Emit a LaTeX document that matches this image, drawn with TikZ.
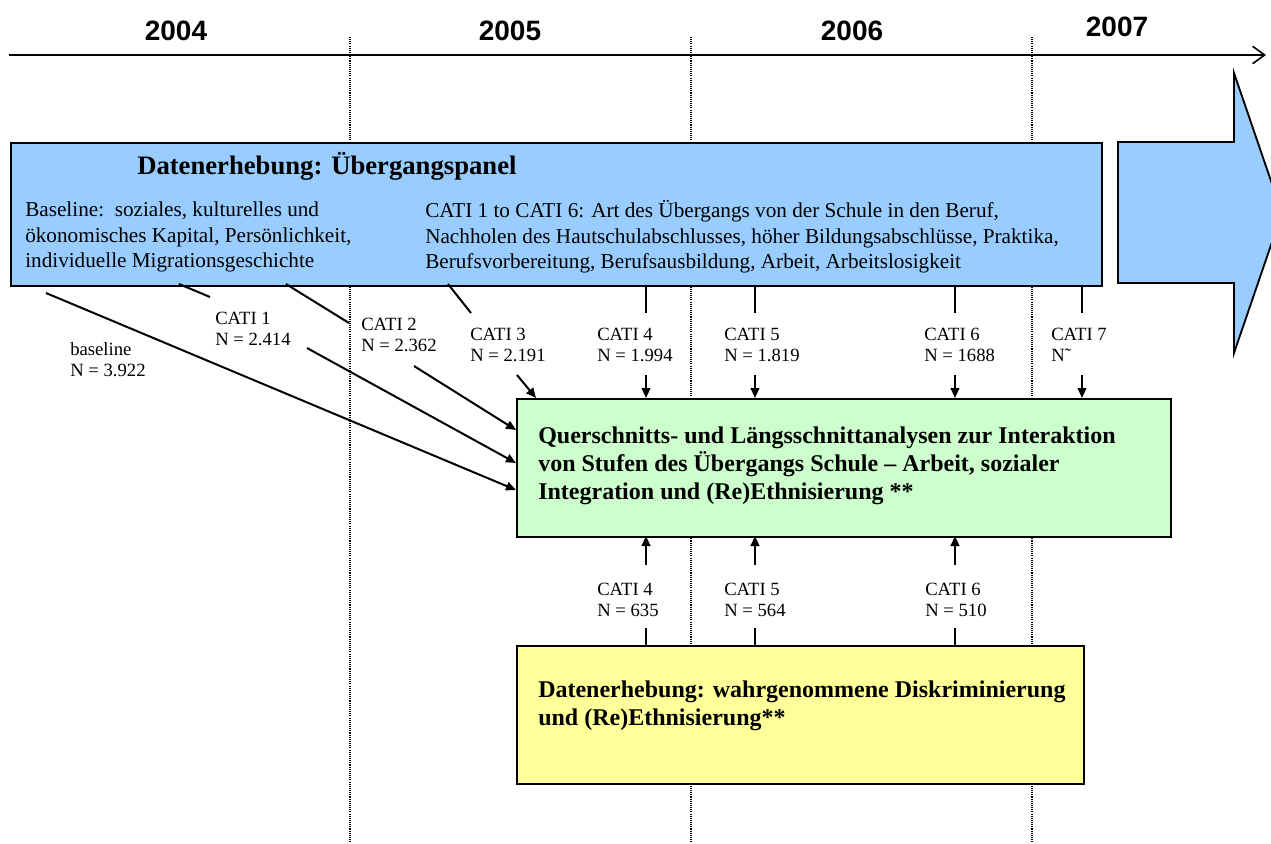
\documentclass[tikz,border=0pt]{standalone}
\usepackage{fontspec}
\setmainfont{Liberation Serif}
\newfontfamily\yearfont{Liberation Sans}
\usetikzlibrary{arrows.meta}
\definecolor{panelblue}{HTML}{99CCFF}
\definecolor{analysisgreen}{HTML}{CCFFCC}
\definecolor{discyellow}{HTML}{FFFF99}
\tikzset{
  boxline/.style={draw=black, line width=1.4pt},
  conn/.style={line width=1.5pt},
  arr/.style={conn, -{Triangle[length=7.5pt,width=6.5pt]}},
  dotline/.style={line width=0.9pt, dash pattern=on 0.8pt off 0.8pt},
  yearlbl/.style={font=\yearfont\bfseries\fontsize{21}{24}\selectfont, inner sep=0pt},
  lbl/.style={font=\fontsize{14}{15.6}\selectfont, align=left, anchor=west, inner sep=0pt},
  bodytxt/.style={font=\fontsize{15.9}{19}\selectfont, align=left, anchor=west, inner sep=0pt},
  boldtxt/.style={font=\bfseries\fontsize{18}{21}\selectfont, align=left, anchor=west, inner sep=0pt},
}
\begin{document}
\begin{tikzpicture}[x=0.75pt,y=-0.75pt]
\useasboundingbox (0,0) rectangle (1271,843);
\clip (0,0) rectangle (1271,843);

% year boundaries
\foreach \n/\xx in {a/350, b/691, c/1032}{
  \coordinate (yt\n) at (\xx,37);
  \coordinate (yb\n) at (\xx,843);
  \draw[dotline] (yt\n) -- (yb\n);
}

% time axis
\coordinate (axL) at (9,55);
\coordinate (axR) at (1266,55);
\draw[line width=1.8pt, -{Straight Barb[length=9pt,width=13pt,line width=1.2pt]}] (axL) -- (axR);
\node[yearlbl] (y2004) at (176,31) {2004};
\node[yearlbl] (y2005) at (510,31) {2005};
\node[yearlbl] (y2006) at (852,31) {2006};
\node[yearlbl] (y2007) at (1117,27) {2007};

% panel box and continuation arrow
\node[boxline, fill=panelblue, minimum width=1091*0.75pt, minimum height=143*0.75pt, anchor=north west, inner sep=0pt] (panel) at (10,142) {};
\draw[boxline, fill=panelblue] (1118,142) -- (1234,142) -- (1234,73) -- (1282,213) -- (1234,353) -- (1234,283) -- (1118,283) -- cycle;
\node[font=\bfseries\fontsize{20}{24}\selectfont, anchor=west, inner sep=0pt] (ptitle) at (137,166) {Datenerhebung: Übergangspanel};
\node[bodytxt] (pbase) at (25,237) {Baseline:\ \ soziales, kulturelles und\\ökonomisches Kapital, Persönlichkeit,\\individuelle Migrationsgeschichte};
\node[bodytxt] (pcati) at (425,237) {CATI 1 to CATI 6: Art des Übergangs von der Schule in den Beruf,\\Nachholen des Hautschulabschlusses, höher Bildungsabschlüsse, Praktika,\\Berufsvorbereitung, Berufsausbildung, Arbeit, Arbeitslosigkeit};

% analysis box
\node[boxline, fill=analysisgreen, minimum width=654*0.75pt, minimum height=138*0.75pt, anchor=north west, inner sep=0pt] (analysis) at (516,398) {};
\node[boldtxt] (atext) at (538,466) {Querschnitts- und Längsschnittanalysen zur Interaktion\\von Stufen des Übergangs Schule – Arbeit, sozialer\\Integration und (Re)Ethnisierung **};

% discrimination survey box
\node[boxline, fill=discyellow, minimum width=567*0.75pt, minimum height=138*0.75pt, anchor=north west, inner sep=0pt] (disc) at (516,645) {};
\node[boldtxt] (dtext) at (538,706) {Datenerhebung: wahrgenommene Diskriminierung\\und (Re)Ethnisierung**};

% wave labels above the analysis box
\node[lbl] (lb0) at (70,360) {baseline\\N = 3.922};
\node[lbl] (lb1) at (215,329) {CATI 1\\N = 2.414};
\node[lbl] (lb2) at (361,335) {CATI 2\\N = 2.362};
\node[lbl] (lb3) at (470,345) {CATI 3\\N = 2.191};
\node[lbl] (lb4) at (597,345) {CATI 4\\N = 1.994};
\node[lbl] (lb5) at (724,345) {CATI 5\\N = 1.819};
\node[lbl] (lb6) at (924,345) {CATI 6\\N = 1688};
\node[lbl] (lb7) at (1051,345) {CATI 7\\N˜};

% wave labels below the analysis box
\node[lbl] (lw4) at (597,600) {CATI 4\\N = 635};
\node[lbl] (lw5) at (724,600) {CATI 5\\N = 564};
\node[lbl] (lw6) at (925,600) {CATI 6\\N = 510};

% baseline and CATI 1-3 (diagonal)
\coordinate (b0s) at (46,293);  \coordinate (b0e) at (516,490);
\draw[arr] (b0s) -- (b0e);
\coordinate (b1s) at (179,284); \coordinate (b1m) at (210,297);
\coordinate (b1n) at (307,348); \coordinate (b1e) at (516,463);
\draw[conn] (b1s) -- (b1m);
\draw[arr] (b1n) -- (b1e);
\coordinate (b2s) at (286,284); \coordinate (b2m) at (349,323);
\coordinate (b2n) at (414,366); \coordinate (b2e) at (516,430);
\draw[conn] (b2s) -- (b2m);
\draw[arr] (b2n) -- (b2e);
\coordinate (b3s) at (448,284); \coordinate (b3m) at (471,313);
\coordinate (b3n) at (517,375); \coordinate (b3e) at (536,398);
\draw[conn] (b3s) -- (b3m);
\draw[arr] (b3n) -- (b3e);

% CATI 4-7 (vertical, from the panel)
\foreach \k/\xx in {4/646, 5/755, 6/955, 7/1082}{
  \coordinate (t\k s) at (\xx,285);
  \coordinate (t\k m) at (\xx,313);
  \coordinate (t\k n) at (\xx,375);
  \coordinate (t\k e) at (\xx,398);
  \draw[conn] (t\k s) -- (t\k m);
  \draw[arr] (t\k n) -- (t\k e);
}

% CATI 4-6 (vertical, from the discrimination survey)
\foreach \k/\xx in {4/646, 5/755, 6/955}{
  \coordinate (u\k s) at (\xx,645);
  \coordinate (u\k m) at (\xx,628);
  \coordinate (u\k n) at (\xx,565);
  \coordinate (u\k e) at (\xx,536);
  \draw[conn] (u\k s) -- (u\k m);
  \draw[arr] (u\k n) -- (u\k e);
}
\end{tikzpicture}
\end{document}
